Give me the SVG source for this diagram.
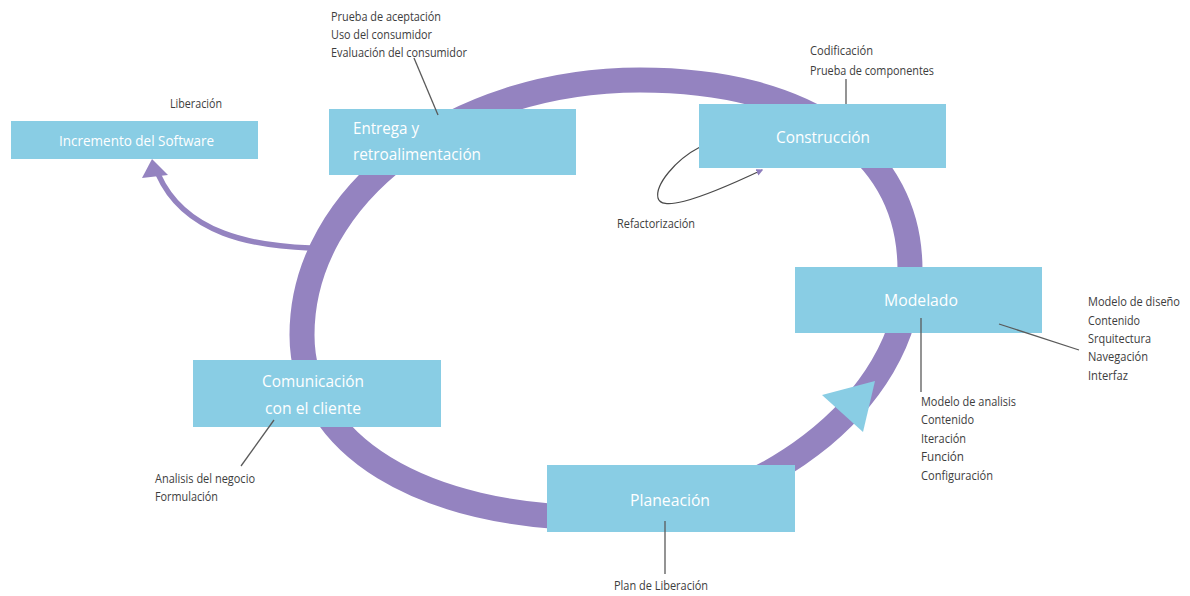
<svg xmlns="http://www.w3.org/2000/svg" width="1190" height="596" viewBox="0 0 1190 596">
  <style>
    .box { fill: #89CDE4; }
    .lbl { fill: #ffffff; font-family: "Open Sans", "Liberation Sans", sans-serif; font-size: 17px; }
    .note { fill: #3d3d3d; font-family: "Open Sans", "Liberation Sans", sans-serif; font-size: 13px; }
    .lead { stroke: #5a5a5a; stroke-width: 1.3; fill: none; }
    .ring { stroke: #9483C0; stroke-width: 25; fill: none; }
  </style>
  <defs>
    <marker id="refArrow" viewBox="0 0 10 10" refX="8" refY="5" markerWidth="7" markerHeight="7" orient="auto" markerUnits="userSpaceOnUse">
      <path d="M0,0 L10,5 L0,10 Z" fill="#8E7DBD"/>
    </marker>
  </defs>

  <rect width="1190" height="596" fill="#ffffff"/>

  <!-- process cycle and arrows -->
  <g id="connectors">
    <path class="ring" d="M640,80 C807.4,80 910,152.2 910,270 C910,406.4 748.8,518 600,518 C421.2,518 302,444.8 302,335 C302,194.2 453.4,80 640,80 Z"/>
    <!-- release branch towards the software increment -->
    <path d="M310,248 C255,246 185,235 158,174" stroke="#9483C0" stroke-width="5.5" fill="none"/>
    <polygon points="152,159 142,178 168,175" fill="#9483C0"/>
    <!-- direction marker on the cycle -->
    <polygon points="822,395 875,381 863,432" fill="#89CDE4"/>
    <!-- refactoring loop on the construction phase -->
    <path d="M700,147 C675,160 655,185 658,198 C661,210 690,204 762,170" stroke="#4a4a4a" stroke-width="1.2" fill="none" marker-end="url(#refArrow)"/>
  </g>

  <g id="node-incremento">
    <rect class="box" x="11" y="121" width="247" height="38"/>
    <text class="lbl" x="59" y="146" style="font-size:15px" textLength="155" lengthAdjust="spacingAndGlyphs">Incremento del Software</text>
  </g>

  <g id="node-entrega">
    <rect class="box" x="329" y="109" width="247" height="66"/>
    <text class="lbl" x="353" y="134" textLength="66" lengthAdjust="spacingAndGlyphs">Entrega y</text>
    <text class="lbl" x="353" y="160" textLength="128" lengthAdjust="spacingAndGlyphs">retroalimentación</text>
  </g>

  <g id="node-construccion">
    <rect class="box" x="699" y="104" width="247" height="64"/>
    <text class="lbl" x="776" y="143" textLength="94" lengthAdjust="spacingAndGlyphs">Construcción</text>
  </g>

  <g id="node-modelado">
    <rect class="box" x="795" y="267" width="247" height="66"/>
    <text class="lbl" x="884" y="306" textLength="74" lengthAdjust="spacingAndGlyphs">Modelado</text>
  </g>

  <g id="node-comunicacion">
    <rect class="box" x="193" y="360" width="248" height="67"/>
    <text class="lbl" x="262" y="387" textLength="102" lengthAdjust="spacingAndGlyphs">Comunicación</text>
    <text class="lbl" x="265" y="414" textLength="96" lengthAdjust="spacingAndGlyphs">con el cliente</text>
  </g>

  <g id="node-planeacion">
    <rect class="box" x="547" y="465" width="248" height="67"/>
    <text class="lbl" x="630" y="506" textLength="80" lengthAdjust="spacingAndGlyphs">Planeación</text>
  </g>

  <!-- activity notes and their leader lines -->
  <g id="annotations">
    <text class="note" x="170" y="108" textLength="52" lengthAdjust="spacingAndGlyphs">Liberación</text>

    <text class="note" x="331" y="21" textLength="110" lengthAdjust="spacingAndGlyphs">Prueba de aceptación</text>
    <text class="note" x="331" y="39" textLength="101" lengthAdjust="spacingAndGlyphs">Uso del consumidor</text>
    <text class="note" x="331" y="57" textLength="136" lengthAdjust="spacingAndGlyphs">Evaluación del consumidor</text>
    <line class="lead" x1="414" y1="58" x2="438" y2="115"/>

    <text class="note" x="810" y="55" textLength="63" lengthAdjust="spacingAndGlyphs">Codificación</text>
    <text class="note" x="810" y="75" textLength="124" lengthAdjust="spacingAndGlyphs">Prueba de componentes</text>
    <line class="lead" x1="846" y1="79" x2="846" y2="104"/>

    <text class="note" x="617" y="228" textLength="78" lengthAdjust="spacingAndGlyphs">Refactorización</text>

    <line class="lead" x1="921" y1="318" x2="921" y2="392"/>
    <text class="note" x="921" y="406" textLength="95" lengthAdjust="spacingAndGlyphs">Modelo de analisis</text>
    <text class="note" x="921" y="424" textLength="53" lengthAdjust="spacingAndGlyphs">Contenido</text>
    <text class="note" x="921" y="443" textLength="45" lengthAdjust="spacingAndGlyphs">Iteración</text>
    <text class="note" x="921" y="461" textLength="43" lengthAdjust="spacingAndGlyphs">Función</text>
    <text class="note" x="921" y="480" textLength="72" lengthAdjust="spacingAndGlyphs">Configuración</text>

    <line class="lead" x1="999" y1="324" x2="1079" y2="350"/>
    <text class="note" x="1088" y="306" textLength="92" lengthAdjust="spacingAndGlyphs">Modelo de diseño</text>
    <text class="note" x="1088" y="325" textLength="52" lengthAdjust="spacingAndGlyphs">Contenido</text>
    <text class="note" x="1088" y="343" textLength="63" lengthAdjust="spacingAndGlyphs">Srquitectura</text>
    <text class="note" x="1088" y="361" textLength="60" lengthAdjust="spacingAndGlyphs">Navegación</text>
    <text class="note" x="1088" y="380" textLength="40" lengthAdjust="spacingAndGlyphs">Interfaz</text>

    <line class="lead" x1="274" y1="420" x2="241" y2="466"/>
    <text class="note" x="155" y="483" textLength="100" lengthAdjust="spacingAndGlyphs">Analisis del negocio</text>
    <text class="note" x="155" y="501" textLength="63" lengthAdjust="spacingAndGlyphs">Formulación</text>

    <line class="lead" x1="665" y1="521" x2="665" y2="574"/>
    <text class="note" x="614" y="590" textLength="94" lengthAdjust="spacingAndGlyphs">Plan de Liberación</text>
  </g>
</svg>
